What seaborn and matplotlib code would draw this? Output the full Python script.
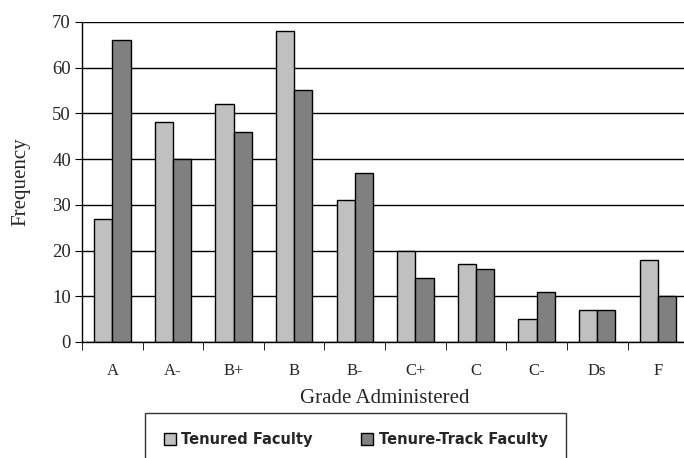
import numpy as np
import pandas as pd
import matplotlib
matplotlib.use("Agg")
import matplotlib.pyplot as plt
import seaborn as sns

grades = ["A", "A-", "B+", "B", "B-", "C+", "C", "C-", "Ds", "F"]
tenured = [27, 48, 52, 68, 31, 20, 17, 5, 7, 18]
tenureTrack = [66, 40, 46, 55, 37, 14, 16, 11, 7, 10]
seriesNames = ["Tenured Faculty", "Tenure-Track Faculty"]
yTicks = [0, 10, 20, 30, 40, 50, 60, 70]

df = pd.DataFrame({
    "grade": grades * 2,
    "freq": tenured + tenureTrack,
    "group": [seriesNames[0]] * len(grades) + [seriesNames[1]] * len(grades),
})

sns.set_style("white")
plt.rcParams["font.family"] = ["Liberation Serif", "DejaVu Serif"]

fig = plt.figure(figsize=(6.84, 4.58), dpi=100)
ax = fig.add_axes([0.12, 0.2533, 0.886, 0.699])

sns.barplot(data=df, x="grade", y="freq", hue="group", order=grades,
            hue_order=seriesNames, palette=["#c0c0c0", "#808080"],
            width=0.6, edgecolor="black", linewidth=1, saturation=1,
            ax=ax, legend=True)

ax.set_xlim(-0.5, 9.5)
ax.set_ylim(0, 70)
ax.set_yticks(yTicks)
ax.yaxis.grid(True, color="black", linewidth=1)
ax.set_axisbelow(True)

for side in ["top", "right"]:
    ax.spines[side].set_visible(False)
for side in ["left", "bottom"]:
    ax.spines[side].set_color("black")
    ax.spines[side].set_linewidth(1)

ax.tick_params(axis="y", direction="out", length=5, color="black",
               labelsize=13.5, left=True, pad=3)
ax.tick_params(axis="x", which="major", length=0, labelsize=12, pad=15)
ax.set_xticks(np.arange(-0.5, 10, 1), minor=True)
ax.tick_params(axis="x", which="minor", direction="out", length=6,
               color="black", bottom=True)

ax.set_xlabel("Grade Administered", fontsize=15, labelpad=7)
ax.set_ylabel("Frequency", fontsize=15, labelpad=16)

handles, labels = ax.get_legend_handles_labels()
ax.get_legend().remove()
leg = fig.legend(handles, labels, loc="upper center",
                 bbox_to_anchor=(0.52, 0.098), ncol=2, frameon=True,
                 fancybox=False, edgecolor="black", handlelength=0.8,
                 handleheight=0.8, handletextpad=0.4, columnspacing=3.3,
                 borderpad=1.3, borderaxespad=0,
                 prop={"family": "DejaVu Sans", "weight": "bold", "size": 10.5})
leg.get_frame().set_linewidth(1)

fig.savefig("out.png", dpi=100)
